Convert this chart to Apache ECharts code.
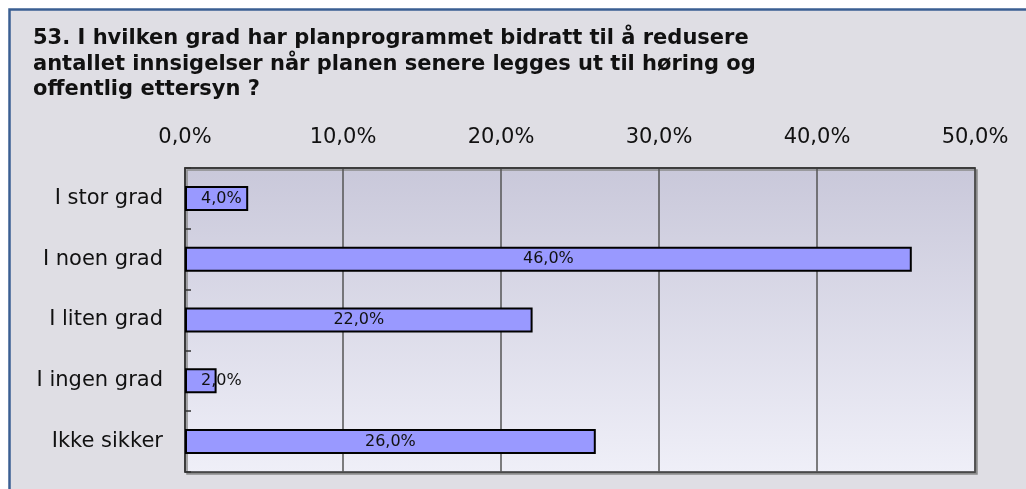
<!DOCTYPE html>
<html>
<head>
<meta charset="utf-8">
<script src="https://cdn.jsdelivr.net/npm/echarts@6/dist/echarts.min.js"></script>
<style>
  html, body { margin: 0; padding: 0; background: #fff; }
  #main { width: 1026px; height: 489px; }
</style>
</head>
<body>
<div id="main"></div>
<script>
// svarkategorier og prosenter
var categories = ['I stor grad', 'I noen grad', 'I liten grad', 'I ingen grad', 'Ikke sikker'];
var percents = [4.0, 46.0, 22.0, 2.0, 26.0];
var titleLines = [
  '53. I hvilken grad har planprogrammet bidratt til å redusere',
  'antallet innsigelser når planen senere legges ut til høring og',
  'offentlig ettersyn ?'
];

// tall med komma
var fmtPct = function(v) {
  return v.toFixed(1).replace('.', ',') + '%';
};

// korte stolper: etiketten starter litt inn fra venstre
var barData = percents.map(function(v) {
  if (v < 5) {
    return { value: v, label: { position: 'insideLeft', distance: 16 } };
  }
  return v;
});

var chart = echarts.init(document.getElementById('main'));
chart.setOption({
  backgroundColor: '#ffffff',
  animation: false,
  graphic: [{
    type: 'rect',
    z: -10,
    shape: { x: 9.5, y: 9.5, width: 1030, height: 500 },
    style: { fill: '#dfdee4', stroke: '#3b5f92', lineWidth: 2.5 }
  }],
  title: {
    text: titleLines.join('\n'),
    left: 28,
    top: 21,
    textStyle: {
      fontFamily: 'DejaVu Sans',
      fontWeight: 'bold',
      fontSize: 21,
      lineHeight: 25.5,
      color: '#111'
    }
  },
  grid: {
    left: 185,
    top: 168,
    right: 51,
    bottom: 17,
    show: true,
    borderColor: '#333',
    borderWidth: 1.5,
    shadowColor: '#8a8a8a',
    shadowOffsetX: 2,
    shadowOffsetY: 2,
    shadowBlur: 0,
    backgroundColor: {
      type: 'linear', x: 0, y: 0, x2: 0, y2: 1,
      colorStops: [
        { offset: 0, color: '#c9c8da' },
        { offset: 1, color: '#efeff8' }
      ]
    }
  },
  xAxis: {
    type: 'value',
    position: 'top',
    min: 0,
    max: 50,
    interval: 10,
    axisLine: { show: true, lineStyle: { color: '#333', width: 1.5 } },
    axisTick: { show: false },
    splitLine: { show: true, lineStyle: { color: '#555', width: 1.5 } },
    axisLabel: {
      formatter: fmtPct,
      fontFamily: 'DejaVu Sans',
      fontSize: 21,
      color: '#111',
      margin: 20
    }
  },
  yAxis: {
    type: 'category',
    inverse: true,
    data: categories,
    axisLine: { show: true, lineStyle: { color: '#333', width: 1.5 } },
    axisTick: { show: true, inside: true, length: 6, lineStyle: { color: '#333', width: 1.5 } },
    axisLabel: {
      fontFamily: 'DejaVu Sans',
      fontSize: 21,
      color: '#111',
      margin: 22
    }
  },
  series: [{
    type: 'bar',
    data: barData,
    barWidth: 25,
    itemStyle: { color: '#9999ff', borderColor: '#000', borderWidth: 2 },
    label: {
      show: true,
      position: 'inside',
      formatter: function(p) { return fmtPct(p.value); },
      fontFamily: 'DejaVu Sans',
      fontSize: 16,
      color: '#111'
    }
  }]
});
</script>
</body>
</html>
